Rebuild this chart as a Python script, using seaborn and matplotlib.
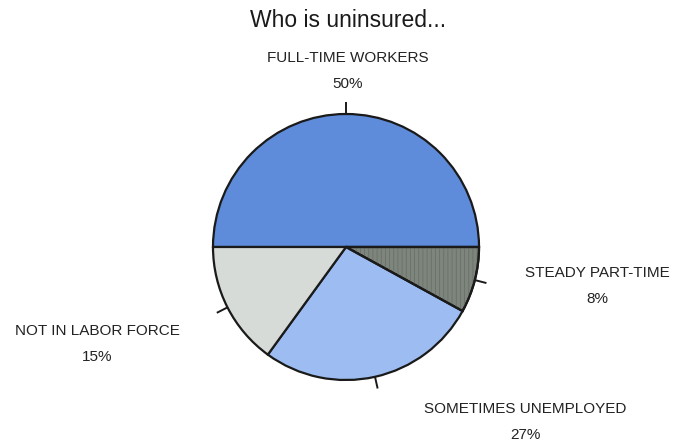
import matplotlib
matplotlib.use("Agg")
import matplotlib.pyplot as plt
from matplotlib.patches import Wedge
import numpy as np
import seaborn as sns

sns.set_theme(style="white")
plt.rcParams["font.family"] = ["Liberation Sans", "DejaVu Sans"]
plt.rcParams["hatch.linewidth"] = 0.6

categories = ["FULL-TIME WORKERS", "STEADY PART-TIME", "SOMETIMES UNEMPLOYED", "NOT IN LABOR FORCE"]
shares = [50, 8, 27, 15]
tick_labels = ["50%", "8%", "27%", "15%"]
colors = ["#5e8cda", "#7d857c", "#9dbdf2", "#d7dbd7"]

W, H = 677, 443
fig = plt.figure(figsize=(W / 100, H / 100), dpi=100)
ax = fig.add_axes([0, 0, 1, 1])

cx, cy, r = 346, H - 247, 133
wedges, _ = ax.pie(shares, colors=colors, startangle=180, counterclock=False,
                   center=(cx, cy), radius=r, frame=True,
                   wedgeprops=dict(edgecolor="#1a1a1a", linewidth=1.6))
ax.set_xlim(0, W)
ax.set_ylim(0, H)
ax.set_aspect("equal")
ax.axis("off")

# fine vertical texture on the part-time slice
w = wedges[1]
ax.add_patch(Wedge((cx, cy), r, w.theta1, w.theta2, facecolor="none",
                   edgecolor="#687067", hatch="||||", linewidth=0, zorder=2))
ax.add_patch(Wedge((cx, cy), r, w.theta1, w.theta2, facecolor="none",
                   edgecolor="#1a1a1a", linewidth=1.6, zorder=3))

# short leader ticks at each slice's middle angle
for wd in wedges:
    mid = np.deg2rad((wd.theta1 + wd.theta2) / 2)
    x0, y0 = cx + r * np.cos(mid), cy + r * np.sin(mid)
    x1, y1 = cx + (r + 12) * np.cos(mid), cy + (r + 12) * np.sin(mid)
    ax.plot([x0, x1], [y0, y1], color="#1a1a1a", lw=1.4, solid_capstyle="butt")

label_pos = [(348, H - 58), (597, H - 273), (525, H - 409), (97, H - 331)]
for (lx, ly), name, pct in zip(label_pos, categories, tick_labels):
    ax.text(lx, ly, name, ha="center", va="center", fontsize=11, color="#222222")
    ax.text(lx, ly - 26, pct, ha="center", va="center", fontsize=11, color="#222222")

ax.text(348, H - 20, "Who is uninsured...", ha="center", va="center",
        fontsize=16.5, color="#1a1a1a")

fig.savefig("out.png", dpi=100, facecolor="white")
